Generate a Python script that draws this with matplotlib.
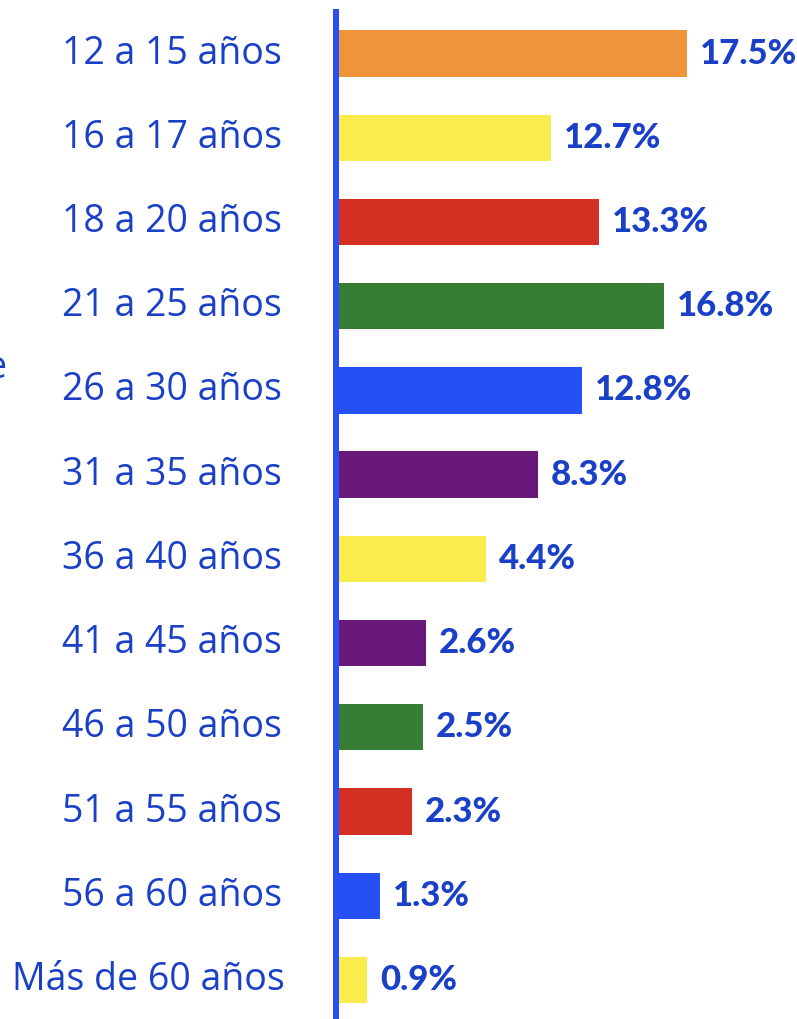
import matplotlib
matplotlib.use("Agg")
import matplotlib.pyplot as plt
import matplotlib.transforms as mtransforms

# ---- data ----
categories = ["12 a 15 años", "16 a 17 años", "18 a 20 años", "21 a 25 años",
              "26 a 30 años", "31 a 35 años", "36 a 40 años", "41 a 45 años",
              "46 a 50 años", "51 a 55 años", "56 a 60 años", "Más de 60 años"]
values = [17.5, 12.7, 13.3, 16.8, 12.8, 8.3, 4.4, 2.6, 2.5, 2.3, 1.3, 0.9]
# drawn bar lengths as they appear in the picture (same scale as 17.5 → 17.5)
bar_lengths = [17.5, 10.66, 13.07, 16.34, 12.22, 10.0, 7.39, 4.37, 4.22, 3.67, 2.06, 1.41]
value_labels = [f"{v:.1f}%" for v in values]

# ---- styles ----
ORANGE = "#EF9438"
YELLOW = "#FBEC4E"
RED = "#D32F22"
GREEN = "#387D34"
BLUE = "#2450F5"
PURPLE = "#69197A"
colors = [ORANGE, YELLOW, RED, GREEN, BLUE, PURPLE, YELLOW, PURPLE, GREEN, RED, BLUE, YELLOW]
TEXT_BLUE = "#1A40C8"
AXIS_BLUE = "#2B50F2"

W, H, DPI = 797, 1019, 100
fig = plt.figure(figsize=(W / DPI, H / DPI), dpi=DPI)

ax_left, ax_top, ax_bottom = 339, 12, 1019
ax = fig.add_axes([ax_left / W, 1 - ax_bottom / H, (W - ax_left) / W, (ax_bottom - ax_top) / H])

px_per_unit = 19.886
ypos = list(range(len(categories)))
ax.barh(ypos, bar_lengths, height=0.55, color=colors, zorder=2)

ax.set_xlim(0, (W - ax_left) / px_per_unit)
ax.set_ylim(len(categories) - 1 + 0.463, -0.493)

for s in ["top", "right", "bottom"]:
    ax.spines[s].set_visible(False)
ax.spines["left"].set_color(AXIS_BLUE)
ax.spines["left"].set_linewidth(6 * 72 / DPI)
ax.spines["left"].set_position(("outward", 3 * 72 / DPI))
ax.spines["left"].set_zorder(1)
ax.set_xticks([])
ax.set_yticks([])

val_font = dict(family=["Lato", "DejaVu Sans"], weight="black", size=25, color=TEXT_BLUE)
cat_font = dict(family=["Open Sans", "DejaVu Sans"], weight="normal", size=27, color=TEXT_BLUE)

for y, L, lab in zip(ypos, bar_lengths, value_labels):
    ax.annotate(lab, xy=(L, y), xytext=(13, 0), textcoords="offset pixels",
                ha="left", va="center", **val_font)

# category labels: x in figure pixels, y in data
trans = mtransforms.blended_transform_factory(fig.transFigure, ax.transData)
for i, (y, cat) in enumerate(zip(ypos, categories)):
    x_px = 62 if i < len(categories) - 1 else 12
    ax.text(x_px / W, y, cat, transform=trans, ha="left", va="center",
            clip_on=False, **cat_font)

# clipped fragment of text at the very left edge (as in the reference)
fig.text(-14 / W, 1 - 368 / H, "e", ha="left", va="center", **cat_font)

fig.savefig("out.png", dpi=DPI)
